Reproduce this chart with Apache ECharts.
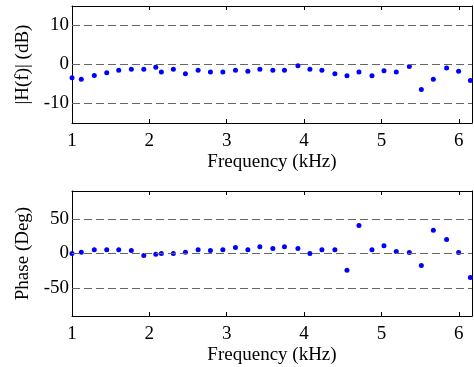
<!DOCTYPE html>
<html>
<head>
<meta charset="utf-8">
<script src="https://cdn.jsdelivr.net/npm/echarts@6/dist/echarts.min.js"></script>
<style>
html,body{margin:0;padding:0;background:#fff;}
#c{width:474px;height:367px;}
</style>
</head>
<body>
<div id="c"></div>
<script>
// Frequency (kHz) of each measurement point
const freq = [1.000,1.120,1.288,1.449,1.604,1.767,1.928,2.083,2.155,2.310,2.466,2.630,2.789,2.950,3.113,3.273,3.428,3.596,3.746,3.920,4.075,4.230,4.398,4.554,4.709,4.877,5.032,5.191,5.360,5.515,5.670,5.842,5.997,6.149];
// |H(f)| in dB
const magDb = [-3.4,-3.8,-2.8,-2.1,-1.5,-1.2,-1.2,-0.7,-1.9,-1.2,-2.4,-1.5,-1.9,-1.9,-1.5,-1.7,-1.2,-1.5,-1.5,-0.3,-1.2,-1.5,-2.4,-2.9,-1.9,-2.9,-1.6,-1.9,-0.5,-6.4,-3.8,-0.9,-1.7,-4.1];
// Phase in degrees
const phaseDeg = [0,1.9,5.3,5.3,5.3,4.3,-2.9,-1.0,0,0,1.9,5.3,4.3,5.3,8.6,5.3,9.6,7.2,9.6,7.2,0,5.3,5.3,-24,40.3,5.3,11,2.9,1.4,-17.3,33.6,20.2,1.4,-34.6];
// Tick labels
const xTicks = [1,2,3,4,5,6];
const magTicks = [-10,0,10];
const phaseTicks = [-50,0,50];

const FONT = '"Liberation Serif","Times New Roman",serif';
const FS = 19;

function xAx(gridIndex, showLabels, position){
  return {
    type:'value', gridIndex, min:1, max:6.17, position,
    name: showLabels ? 'Frequency (kHz)' : '',
    nameLocation:'middle', nameGap:30,
    nameTextStyle:{fontFamily:FONT,fontSize:FS,color:'#000'},
    axisLine:{show:true,onZero:false,lineStyle:{color:'#000',width:1}},
    axisTick:{show:true,inside:true,length:4,customValues:xTicks,lineStyle:{color:'#000'}},
    axisLabel:{show:showLabels,customValues:xTicks,margin:9,fontFamily:FONT,fontSize:FS,color:'#000'},
    splitLine:{show:false}
  };
}
function yAx(gridIndex, min, max, ticks, name, showLabels, position){
  return {
    type:'value', gridIndex, min, max, position,
    name: showLabels ? name : '',
    nameLocation:'middle', nameGap:36, nameRotate:90,
    nameTextStyle:{fontFamily:FONT,fontSize:FS,color:'#000'},
    axisLine:{show:true,onZero:false,lineStyle:{color:'#000',width:1}},
    axisTick:{show:true,inside:true,length:4,customValues:ticks,lineStyle:{color:'#000'}},
    axisLabel:{show:showLabels,customValues:ticks,margin:3,fontFamily:FONT,fontSize:FS,color:'#000'},
    splitLine:{show:false}
  };
}
function gridLines(vals){
  return {
    silent:true, symbol:'none', label:{show:false},
    lineStyle:{color:'#666666',type:[8,4],width:1},
    data: vals.map(v=>({yAxis:v}))
  };
}

const chart = echarts.init(document.getElementById('c'), null, {renderer:'canvas'});
chart.setOption({
  backgroundColor:'#fff',
  animation:false,
  grid:[
    {left:72, right:2, top:6, height:117, show:false},
    {left:72, right:2, top:191, height:125, show:false}
  ],
  xAxis:[
    xAx(0,true,'bottom'), xAx(0,false,'top'),
    xAx(1,true,'bottom'), xAx(1,false,'top')
  ],
  yAxis:[
    yAx(0,-15,15,magTicks,'|H(f)| (dB)',true,'left'), yAx(0,-15,15,magTicks,'',false,'right'),
    yAx(1,-90,90,phaseTicks,'Phase (Deg)',true,'left'), yAx(1,-90,90,phaseTicks,'',false,'right')
  ],
  series:[
    {type:'scatter', xAxisIndex:0, yAxisIndex:0, symbolSize:5,
     itemStyle:{color:'#0000ff',opacity:1}, data: freq.map((f,i)=>[f,magDb[i]]),
     markLine: gridLines(magTicks), z:3},
    {type:'scatter', xAxisIndex:2, yAxisIndex:2, symbolSize:5,
     itemStyle:{color:'#0000ff',opacity:1}, data: freq.map((f,i)=>[f,phaseDeg[i]]),
     markLine: gridLines(phaseTicks), z:3}
  ]
});
</script>
</body>
</html>
